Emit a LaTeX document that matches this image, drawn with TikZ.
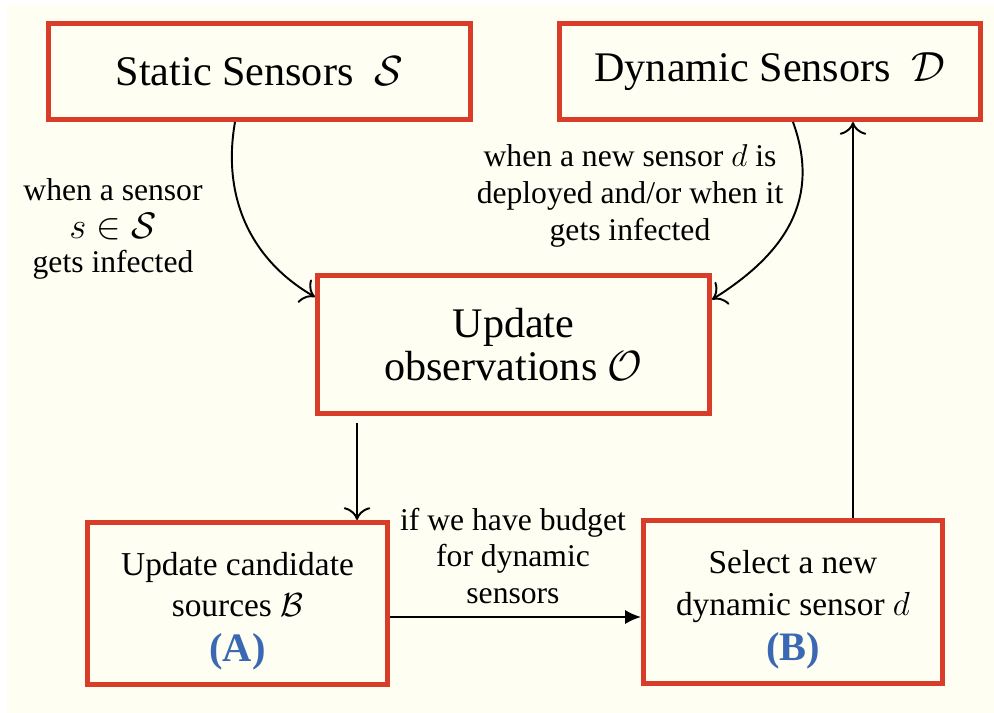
\RequirePackage{fix-cm}
\documentclass[tikz,border=0pt]{standalone}
\usepackage{fontspec}
\setmainfont{Liberation Serif}
\usepackage{amssymb}
\usetikzlibrary{calc}
\usetikzlibrary{arrows.meta}

\definecolor{boxred}{RGB}{218,60,42}
\definecolor{tagblue}{RGB}{58,104,178}
\definecolor{paper}{RGB}{255,254,242}

\newcommand{\steptag}[1]{{\fontsize{23}{26}\selectfont\bfseries\color{tagblue}(#1)}}

\tikzset{
  block/.style={draw=boxred, line width=2.9pt, fill=paper, align=center, inner sep=0pt},
  note/.style={align=center, font=\fontsize{18}{21}\selectfont},
  flow/.style={line width=1.1pt, -{To[scale=1.8]}}
}

\begin{document}
\begin{tikzpicture}[x=0.02cm,y=-0.02cm]
            \useasboundingbox (0,0) rectangle (994,713);
            \fill[paper] (7,4) rectangle (994,713);

            % the four boxes of the loop
            \node[block, minimum width=8.44cm, minimum height=1.92cm, font=\fontsize{24}{25}\selectfont] (static) at (259.5,71.5) {Static Sensors~ $\mathcal{S}$};
            \node[block, minimum width=8.42cm, minimum height=1.92cm, font=\fontsize{24}{25}\selectfont] (dynamic) at (770,71.5) {Dynamic Sensors~ $\mathcal{D}$};
            \node[block, minimum width=7.84cm, minimum height=2.76cm, font=\fontsize{24}{24.5}\selectfont] (obs) at (513.5,344.5) {Update\\ observations $\mathcal{O}$};
            \node[block, minimum width=6.0cm, minimum height=3.24cm, font=\fontsize{19}{23.5}\selectfont] (cand) at (237.5,603.5) {\rule{0pt}{22pt}Update candidate\\ sources $\mathcal{B}$\\[2pt] \steptag{A}};
            \node[block, minimum width=5.98cm, minimum height=3.26cm, font=\fontsize{19}{23.5}\selectfont] (select) at (793,602) {\rule{0pt}{22pt}Select a new\\ dynamic sensor $d$\\[2pt] \steptag{B}};

            % labels on the arrows
            \node[note] (lblS) at (113,229) {when a sensor\\[0.5pt] {\fontsize{21}{21}\selectfont$s\in\mathcal{S}$}\\[-2pt] gets infected};
            \node[note] (lblD) at (630,196) {when a new sensor $d$ is\\ deployed and/or when it\\ gets infected};
            \node[note] (lblB) at (513,556) {if we have budget\\ for dynamic\\ sensors};

            % connectors
            \draw[flow] ([xshift=-0.49cm]static.south) to[out=-100,in=150] ([yshift=0.95cm]obs.west);
            \draw[flow] ([xshift=0.46cm]dynamic.south) to[out=-70,in=32,looseness=1.1] ([yshift=0.9cm]obs.east);
            \draw[flow,shorten <=4pt] ([xshift=-3.13cm]obs.south) -- ([xshift=-3.13cm]obs.south |- cand.north);
            \draw[flow,-{Latex[length=9pt,width=8pt]}] ([yshift=-0.27cm]cand.east) -- ([yshift=-0.27cm]cand.east -| select.west);
            \draw[flow] ([xshift=1.2cm]select.north) -- ([xshift=1.2cm]select.north |- dynamic.south);

        \end{tikzpicture}
\end{document}
